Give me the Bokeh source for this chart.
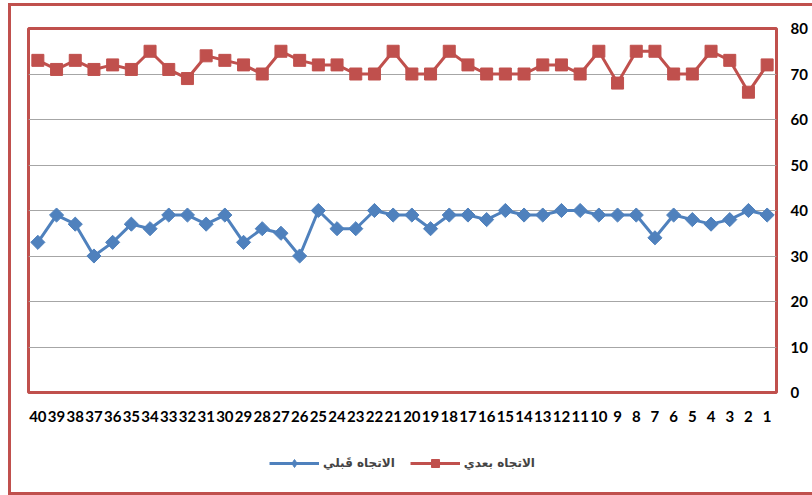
import numpy as np
from bokeh.plotting import figure
from bokeh.layouts import column
from bokeh.models import FactorRange, Range1d, LinearAxis, FixedTicker, Legend, LegendItem
from bokeh.embed import file_html
from bokeh.resources import INLINE

categories = [str(i) for i in range(40, 0, -1)]
before = [33, 39, 37, 30, 33, 37, 36, 39, 39, 37, 39, 33, 36, 35, 30, 40, 36, 36, 40, 39,
          39, 36, 39, 39, 38, 40, 39, 39, 40, 40, 39, 39, 39, 34, 39, 38, 37, 38, 40, 39]
after = [73, 71, 73, 71, 72, 71, 75, 71, 69, 74, 73, 72, 70, 75, 73, 72, 72, 70, 70, 75,
         70, 70, 75, 72, 70, 70, 70, 72, 72, 70, 75, 68, 75, 75, 70, 70, 75, 73, 66, 72]
y_ticks = [0, 10, 20, 30, 40, 50, 60, 70, 80]
label_before = "الاتجاه قَبلي"
label_after = "الاتجاه بعدي"

BLUE = "#4F81BD"
RED = "#C0504D"

# main chart
p = figure(width=801, height=428, x_range=FactorRange(*categories), y_range=Range1d(0, 80),
           output_backend="svg", toolbar_location=None, y_axis_location=None,
           min_border_left=17, min_border_right=36, min_border_top=22, min_border_bottom=42)
p.outline_line_color = RED
p.outline_line_width = 3
p.background_fill_color = "white"
p.border_fill_color = "white"

yax = LinearAxis(ticker=FixedTicker(ticks=y_ticks))
yax.axis_line_color = None
yax.major_tick_line_color = None
yax.minor_tick_line_color = None
yax.major_label_text_font = "Lato"
yax.major_label_text_font_style = "bold"
yax.major_label_text_font_size = "15px"
yax.major_label_text_color = "black"
yax.major_label_standoff = 8
p.add_layout(yax, "right")

xax = p.xaxis[0]
xax.axis_line_color = None
xax.major_tick_line_color = None
xax.minor_tick_line_color = None
xax.major_label_text_font = "Lato"
xax.major_label_text_font_style = "bold"
xax.major_label_text_font_size = "15px"
xax.major_label_text_color = "black"
xax.major_label_standoff = 12

p.xgrid.grid_line_color = None
p.ygrid.grid_line_color = "#A6A6A6"
p.ygrid.grid_line_width = 1
p.ygrid.ticker = FixedTicker(ticks=y_ticks)

p.line(categories, before, line_color=BLUE, line_width=3)
p.scatter(categories, before, marker="square", angle=np.pi / 4, size=10,
          fill_color=BLUE, line_color=BLUE)
p.line(categories, after, line_color=RED, line_width=3)
p.scatter(categories, after, marker="square", size=12, fill_color=RED, line_color=RED)

# legend strip (series drawn outside its visible range; only the legend shows)
q = figure(width=801, height=58, x_range=FactorRange(*categories), y_range=Range1d(1000, 1001),
           output_backend="svg", toolbar_location=None,
           x_axis_location=None, y_axis_location=None,
           min_border_left=10, min_border_right=0, min_border_top=0, min_border_bottom=0)
q.outline_line_color = None
q.xgrid.grid_line_color = None
q.ygrid.grid_line_color = None
q.border_fill_color = "white"
ql1 = q.line(categories, before, line_color=BLUE, line_width=3)
qm1 = q.scatter(categories, before, marker="diamond", size=15,
                fill_color=BLUE, line_color=BLUE)
ql2 = q.line(categories, after, line_color=RED, line_width=3)
qm2 = q.scatter(categories, after, marker="square", size=12, fill_color=RED, line_color=RED)

legend = Legend(items=[LegendItem(label=label_before, renderers=[ql1, qm1]),
                       LegendItem(label=label_after, renderers=[ql2, qm2])],
                orientation="horizontal", location="center")
legend.border_line_color = None
legend.background_fill_alpha = 0
legend.label_text_font = "DejaVu Sans"
legend.label_text_font_style = "bold"
legend.label_text_font_size = "12px"
legend.glyph_width = 50
legend.label_standoff = 4
legend.spacing = 15
legend.margin = 0
q.add_layout(legend, "center")

layout = column(p, q, spacing=0)
layout.styles = {"margin-left": "8px", "margin-top": "3px",
                 "border-left": "3px solid " + RED, "border-top": "3px solid " + RED,
                 "border-bottom": "3px solid " + RED, "box-sizing": "content-box"}

open("out.html", "w").write(file_html(layout, INLINE))
